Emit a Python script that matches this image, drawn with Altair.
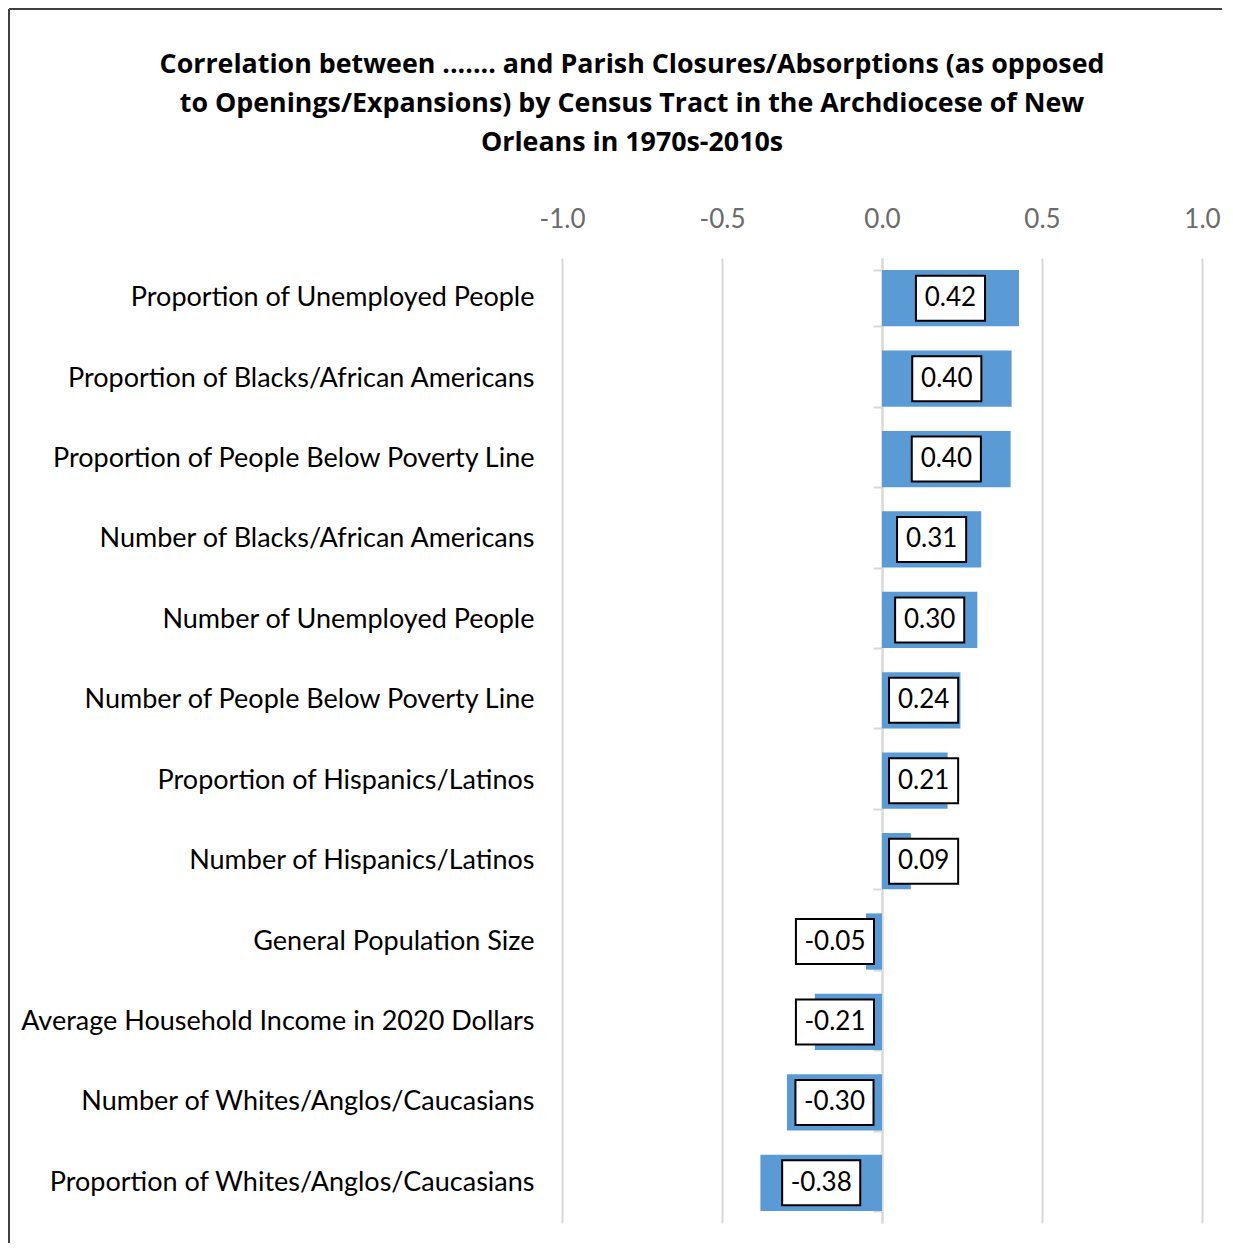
import altair as alt
import pandas as pd

categories = [
    "Proportion of Unemployed People",
    "Proportion of Blacks/African Americans",
    "Proportion of People Below Poverty Line",
    "Number of Blacks/African Americans",
    "Number of Unemployed People",
    "Number of People Below Poverty Line",
    "Proportion of Hispanics/Latinos",
    "Number of Hispanics/Latinos",
    "General Population Size",
    "Average Household Income in 2020 Dollars",
    "Number of Whites/Anglos/Caucasians",
    "Proportion of Whites/Anglos/Caucasians",
]
values = [0.428, 0.405, 0.402, 0.31, 0.298, 0.245, 0.205, 0.09, -0.05, -0.21, -0.297, -0.38]
labels = ["0.42", "0.40", "0.40", "0.31", "0.30", "0.24", "0.21", "0.09", "-0.05", "-0.21", "-0.30", "-0.38"]
x_ticks = [-1.0, -0.5, 0.0, 0.5, 1.0]

df = pd.DataFrame({"cat": categories, "v": values, "lab": labels})

FONT = "Lato"
TITLE_FONT = "Open Sans"
W, H = 640, 965

yscale = alt.Scale(paddingInner=0.3, paddingOuter=0.15)

base = alt.Chart(df).transform_calculate(
    pos="datum.v >= 0 ? max(datum.v / 2, 0.13) : min(datum.v / 2, -0.147)",
    hw="datum.v >= 0 ? 0.108 : 0.122",
).transform_calculate(
    bx="datum.pos - datum.hw",
    bx2="datum.pos + datum.hw",
)

xscale = alt.Scale(domain=[-1, 1])

bars = base.mark_bar(color="#5B9BD5").encode(
    y=alt.Y("cat:N", sort=categories, scale=yscale,
            axis=alt.Axis(title=None, orient="left", ticks=False, domain=False,
                          labelFontSize=27, labelFont=FONT, labelColor="#000000",
                          labelPadding=28, labelLimit=700)),
    x=alt.X("v:Q", scale=xscale,
            axis=alt.Axis(orient="top", title=None, values=x_ticks, grid=True,
                          gridColor="#d9d9d9", gridWidth=2, ticks=False, domain=False,
                          labelFontSize=26, labelFont=FONT, labelColor="#6b6b6b",
                          labelPadding=26, labelFlush=False,
                          labelExpr="(datum.value < 0 ? '-' : '') + format(abs(datum.value), '.1f')")),
)

zero_axis = base.mark_bar(opacity=0).encode(
    y=alt.Y("cat:N", sort=categories, scale=yscale,
            axis=alt.Axis(title=None, orient="left", offset=-W / 2, labels=False,
                          domain=True, domainColor="#d9d9d9", domainWidth=2,
                          ticks=True, tickColor="#d9d9d9", tickWidth=2, tickSize=9,
                          tickBand="extent")),
    x=alt.X("v:Q", scale=xscale),
)

boxes = base.mark_bar(size=45, fill="white", stroke="black", strokeWidth=2).encode(
    y=alt.Y("cat:N", sort=categories, scale=yscale, axis=None),
    x=alt.X("bx:Q", scale=xscale),
    x2="bx2:Q",
)

texts = base.mark_text(fontSize=26, font=FONT, color="black", baseline="middle",
                       align="center").encode(
    y=alt.Y("cat:N", sort=categories, scale=yscale, axis=None),
    x=alt.X("pos:Q", scale=xscale),
    text="lab:N",
)

frame_left = alt.Chart(df).mark_rule(color="#404040", strokeWidth=2).encode(
    x=alt.value(-553), y=alt.value(-249), y2=alt.value(H + 30))
frame_top = alt.Chart(df).mark_rule(color="#404040", strokeWidth=2).encode(
    x=alt.value(-553), x2=alt.value(W + 30), y=alt.value(-249))

chart = alt.layer(
    zero_axis, bars, boxes, texts, frame_left, frame_top
).resolve_scale(y="independent").resolve_axis(y="independent").properties(
    width=W, height=H,
    autosize=alt.AutoSizeParams(type="none"),
    padding={"left": 554, "top": 250, "right": 20, "bottom": 20},
    title=alt.TitleParams(
        text=["Correlation between ....... and Parish Closures/Absorptions (as opposed",
              "to Openings/Expansions) by Census Tract in the Archdiocese of New",
              "Orleans in 1970s-2010s"],
        font=TITLE_FONT, fontSize=26.8, fontWeight="bold", color="black",
        anchor="middle", dx=-250, lineHeight=39, offset=-149,
    ),
).configure_view(stroke=None)

chart.save("out.html", embed_options={"renderer": "svg", "actions": False})
